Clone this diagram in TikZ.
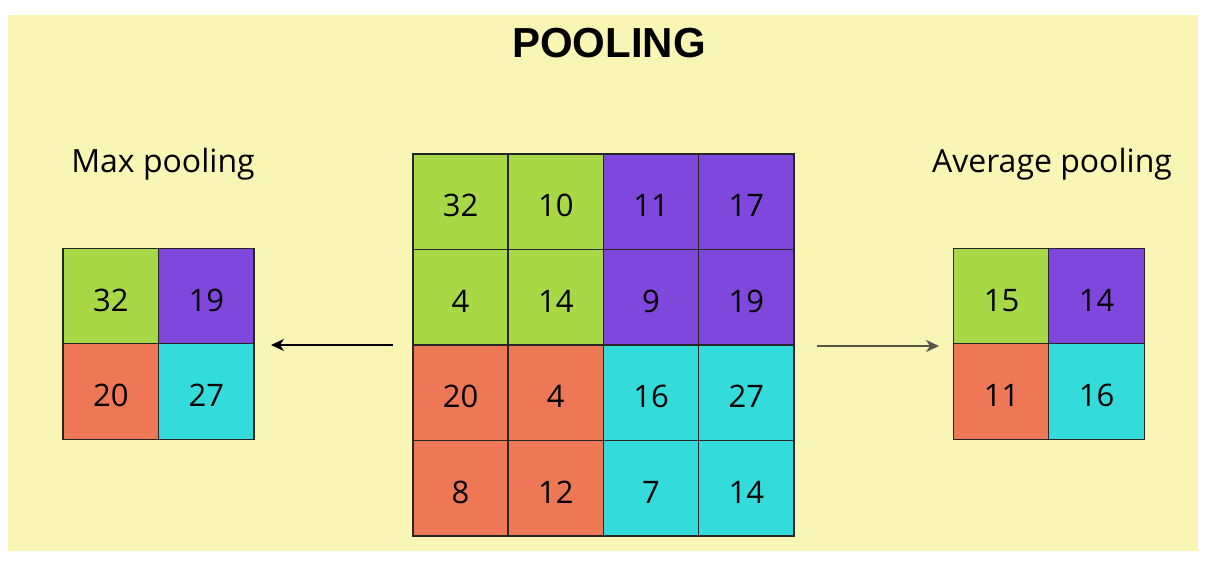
\documentclass[tikz,border=0pt]{standalone}
\usepackage{fontspec}
\setmainfont{Open Sans}
\newfontfamily\titlefont{Liberation Sans}
\definecolor{bgy}{HTML}{F8F5B5}
\definecolor{cgreen}{HTML}{A8D845}
\definecolor{cpurple}{HTML}{8047DC}
\definecolor{corange}{HTML}{EE7755}
\definecolor{ccyan}{HTML}{33DBDB}
\definecolor{arrgray}{HTML}{55554A}
\usetikzlibrary{arrows.meta}
\tikzset{
  cell/.style={draw=black!85, line width=1.3pt, minimum width=95.5pt, minimum height=95.5pt, inner sep=0pt, anchor=center, font=\fontsize{31}{34}\selectfont, text depth=0pt, text height=30pt},
  lbl/.style={font=\fontsize{32}{36}\selectfont, inner sep=0pt},
  conn/.style={line width=1.4pt, -{Stealth[length=13pt,width=12pt,inset=4pt]}}
}
\begin{document}
\begin{tikzpicture}[x=1pt,y=-1pt]
\useasboundingbox (0,0) rectangle (1222,562);
\fill[white] (0,0) rectangle (1222,562);
\fill[bgy] (8,15) rectangle (1198,551);
\node[font=\titlefont\bfseries\fontsize{42}{46}\selectfont, inner sep=0pt] (title) at (609,43.5) {POOLING};
\node[lbl] (maxl) at (163,164.5) {Max pooling};
\node[lbl] (avgl) at (1052,164.5) {Average pooling};
% middle grid
\foreach \r/\c/\v/\col in {
 0/0/32/cgreen,0/1/10/cgreen,0/2/11/cpurple,0/3/17/cpurple,
 1/0/4/cgreen,1/1/14/cgreen,1/2/9/cpurple,1/3/19/cpurple,
 2/0/20/corange,2/1/4/corange,2/2/16/ccyan,2/3/27/ccyan,
 3/0/8/corange,3/1/12/corange,3/2/7/ccyan,3/3/14/ccyan}{
  \node[cell, fill=\col] (m\r\c) at ({413+95.25*\c+47.6},{154+95.5*\r+47.75}) {\v};
}
% left grid
\foreach \r/\c/\v/\col in {0/0/32/cgreen,0/1/19/cpurple,1/0/20/corange,1/1/27/ccyan}{
  \node[cell, fill=\col] (l\r\c) at ({63+95.5*\c+47.75},{249+95*\r+47.5}) {\v};
}
% right grid
\foreach \r/\c/\v/\col in {0/0/15/cgreen,0/1/14/cpurple,1/0/11/corange,1/1/16/ccyan}{
  \node[cell, fill=\col] (r\r\c) at ({954+95*\c+47.5},{249+95*\r+47.5}) {\v};
}
\coordinate (la) at (393,345);
\coordinate (lb) at (271,345);
\coordinate (ra) at (817,346);
\coordinate (rb) at (939,346);
\draw[conn, black] (la) -- (lb);
\draw[conn, arrgray] (ra) -- (rb);
\end{tikzpicture}
\end{document}
